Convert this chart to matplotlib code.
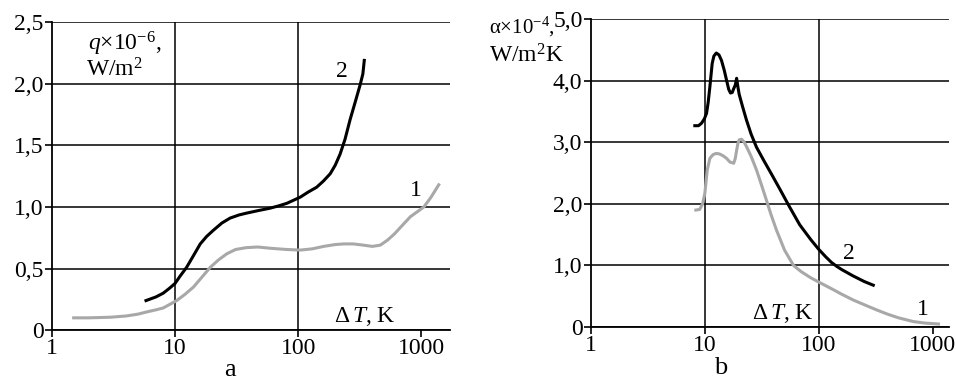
import matplotlib
matplotlib.use('Agg')
from matplotlib import pyplot as plt

plt.rcParams['font.family'] = ['Liberation Serif', 'DejaVu Serif']
plt.rcParams['mathtext.fontset'] = 'custom'
plt.rcParams['mathtext.rm'] = 'Liberation Serif'
plt.rcParams['mathtext.it'] = 'Liberation Serif:italic'

# panel a: heat flux q*1e-6, W/m2 vs dT
a_x2 = [5.8, 7, 8, 9, 10, 11, 12.4, 14, 16, 18, 20.4, 24, 28, 33, 38, 47, 59, 70, 81, 104, 120, 141, 160, 182, 200, 219, 240, 264, 290, 318, 335, 344]
a_y2 = [0.24, 0.27, 0.30, 0.34, 0.38, 0.44, 0.51, 0.60, 0.70, 0.76, 0.81, 0.87, 0.91, 0.935, 0.95, 0.97, 0.99, 1.01, 1.03, 1.08, 1.12, 1.16, 1.21, 1.27, 1.34, 1.43, 1.55, 1.71, 1.85, 1.99, 2.08, 2.19]
a_x1 = [1.5, 2, 3, 4, 5, 6, 7, 8, 10.3, 12, 14.1, 16.5, 19.3, 22.5, 26.3, 31, 38, 47, 59, 80, 104, 130, 161, 200, 234, 280, 339, 400, 464, 530, 603, 700, 813, 1048, 1200, 1385]
a_y1 = [0.10, 0.10, 0.105, 0.115, 0.13, 0.15, 0.165, 0.18, 0.24, 0.29, 0.35, 0.43, 0.51, 0.57, 0.62, 0.655, 0.67, 0.675, 0.665, 0.655, 0.65, 0.66, 0.68, 0.695, 0.70, 0.70, 0.69, 0.68, 0.69, 0.73, 0.78, 0.85, 0.92, 1.0, 1.08, 1.18]

# panel b: alpha*1e-4, W/m2K vs dT
b_x2 = [8.17, 8.8, 9.35, 9.9, 10.35, 10.7, 11.07, 11.6, 12.0, 12.6, 13.3, 14.0, 14.8, 15.5, 16.2, 16.8, 17.4, 17.9, 18.5, 19.0, 19.5, 20, 21.5, 23.2, 25.5, 28.4, 33, 38, 45.5, 55, 68, 85, 100, 115, 129, 145, 160, 200, 250, 300]
b_y2 = [3.27, 3.27, 3.31, 3.38, 3.47, 3.65, 3.90, 4.28, 4.40, 4.45, 4.42, 4.33, 4.17, 4.01, 3.86, 3.80, 3.81, 3.87, 3.93, 4.04, 3.90, 3.78, 3.57, 3.36, 3.13, 2.92, 2.70, 2.50, 2.24, 1.96, 1.66, 1.42, 1.26, 1.14, 1.05, 0.98, 0.93, 0.83, 0.74, 0.68]
b_x1 = [8.34, 9.0, 9.55, 10.0, 10.5, 11.07, 11.8, 12.6, 13.5, 14.5, 15.5, 16.6, 17.9, 18.5, 19.0, 19.5, 20, 21, 22, 23.2, 25.5, 28.4, 31.5, 34.7, 38, 42.6, 50, 60, 70, 85, 100, 130, 160, 200, 260, 330, 400, 500, 673, 850, 1120]
b_y1 = [1.90, 1.91, 2.00, 2.17, 2.55, 2.74, 2.80, 2.82, 2.81, 2.78, 2.74, 2.68, 2.66, 2.74, 2.87, 2.98, 3.04, 3.05, 3.01, 2.93, 2.77, 2.55, 2.30, 2.06, 1.83, 1.57, 1.25, 1.00, 0.90, 0.80, 0.73, 0.62, 0.53, 0.44, 0.35, 0.27, 0.21, 0.15, 0.09, 0.065, 0.05]

a_yticks = [0, 0.5, 1.0, 1.5, 2.0, 2.5]
a_ylabels = ['0', '0,5', '1,0', '1,5', '2,0', '2,5']
b_yticks = [0, 1, 2, 3, 4, 5]
b_ylabels = ['0', '1,0', '2,0', '3,0', '4,0', '5,0']
xticks = [1, 10, 100, 1000]
xlabels = ['1', '10', '100', '1000']

grey = '#a8a8a8'
fs = 17

fig = plt.figure(figsize=(9.56, 3.83), dpi=100)
axa = fig.add_axes([0.0544, 0.138, 0.416, 0.804])
axb = fig.add_axes([0.618, 0.146, 0.3745, 0.804])


def style(ax, xmax, ymax, yt, yl):
    ax.set_xscale('log')
    ax.set_xlim(1, xmax)
    ax.set_ylim(0, ymax)
    ax.set_xticks(xticks)
    ax.set_xticklabels(xlabels, fontsize=fs)
    ax.minorticks_off()
    ax.set_yticks(yt)
    ax.set_yticklabels(yl, fontsize=fs)
    ax.tick_params(length=5, width=1.2, pad=1)
    for s in ['top', 'right']:
        ax.spines[s].set_visible(False)
    for s in ['left', 'bottom']:
        ax.spines[s].set_linewidth(1.3)
    ax.grid(axis='y', color='black', linewidth=1.1)
    for v in [10, 100]:
        ax.axvline(v, color='black', linewidth=1.1)
    ax.set_axisbelow(True)


style(axa, 1700, 2.5, a_yticks, a_ylabels)
axa.plot(a_x1, a_y1, color=grey, linewidth=2.2)
axa.plot(a_x2, a_y2, color='black', linewidth=2.2)
axa.text(0.09, 0.93, r'$q$' + '\u00d710$^{-6}$,', transform=axa.transAxes, fontsize=fs, va='center')
axa.text(0.085, 0.845, 'W/m$^2$', transform=axa.transAxes, fontsize=fs, va='center')
axa.text(0.715, 0.84, '2', transform=axa.transAxes, fontsize=fs, va='center')
axa.text(0.9, 0.455, '1', transform=axa.transAxes, fontsize=fs, va='center')
axa.text(0.71, 0.045, r'$\Delta\,T$, K', transform=axa.transAxes, fontsize=fs, va='center')
fig.text(0.24, 0.035, 'a', fontsize=19, ha='center', va='center')

style(axb, 1380, 5.0, b_yticks, b_ylabels)
axb.plot(b_x1, b_y1, color=grey, linewidth=2.2)
axb.plot(b_x2, b_y2, color='black', linewidth=2.2)
fig.text(0.511, 0.93, '\u03b1\u00d710$^{-4}$,', fontsize=15, va='center')
fig.text(0.511, 0.855, 'W/m$^2$K', fontsize=fs, va='center')
axb.text(0.705, 0.24, '2', transform=axb.transAxes, fontsize=fs, va='center')
axb.text(0.91, 0.058, '1', transform=axb.transAxes, fontsize=fs, va='center')
axb.text(0.45, 0.045, r'$\Delta\,T$, K', transform=axb.transAxes, fontsize=fs, va='center')
fig.text(0.754, 0.038, 'b', fontsize=19, ha='center', va='center')

fig.savefig('out.png', dpi=100)
